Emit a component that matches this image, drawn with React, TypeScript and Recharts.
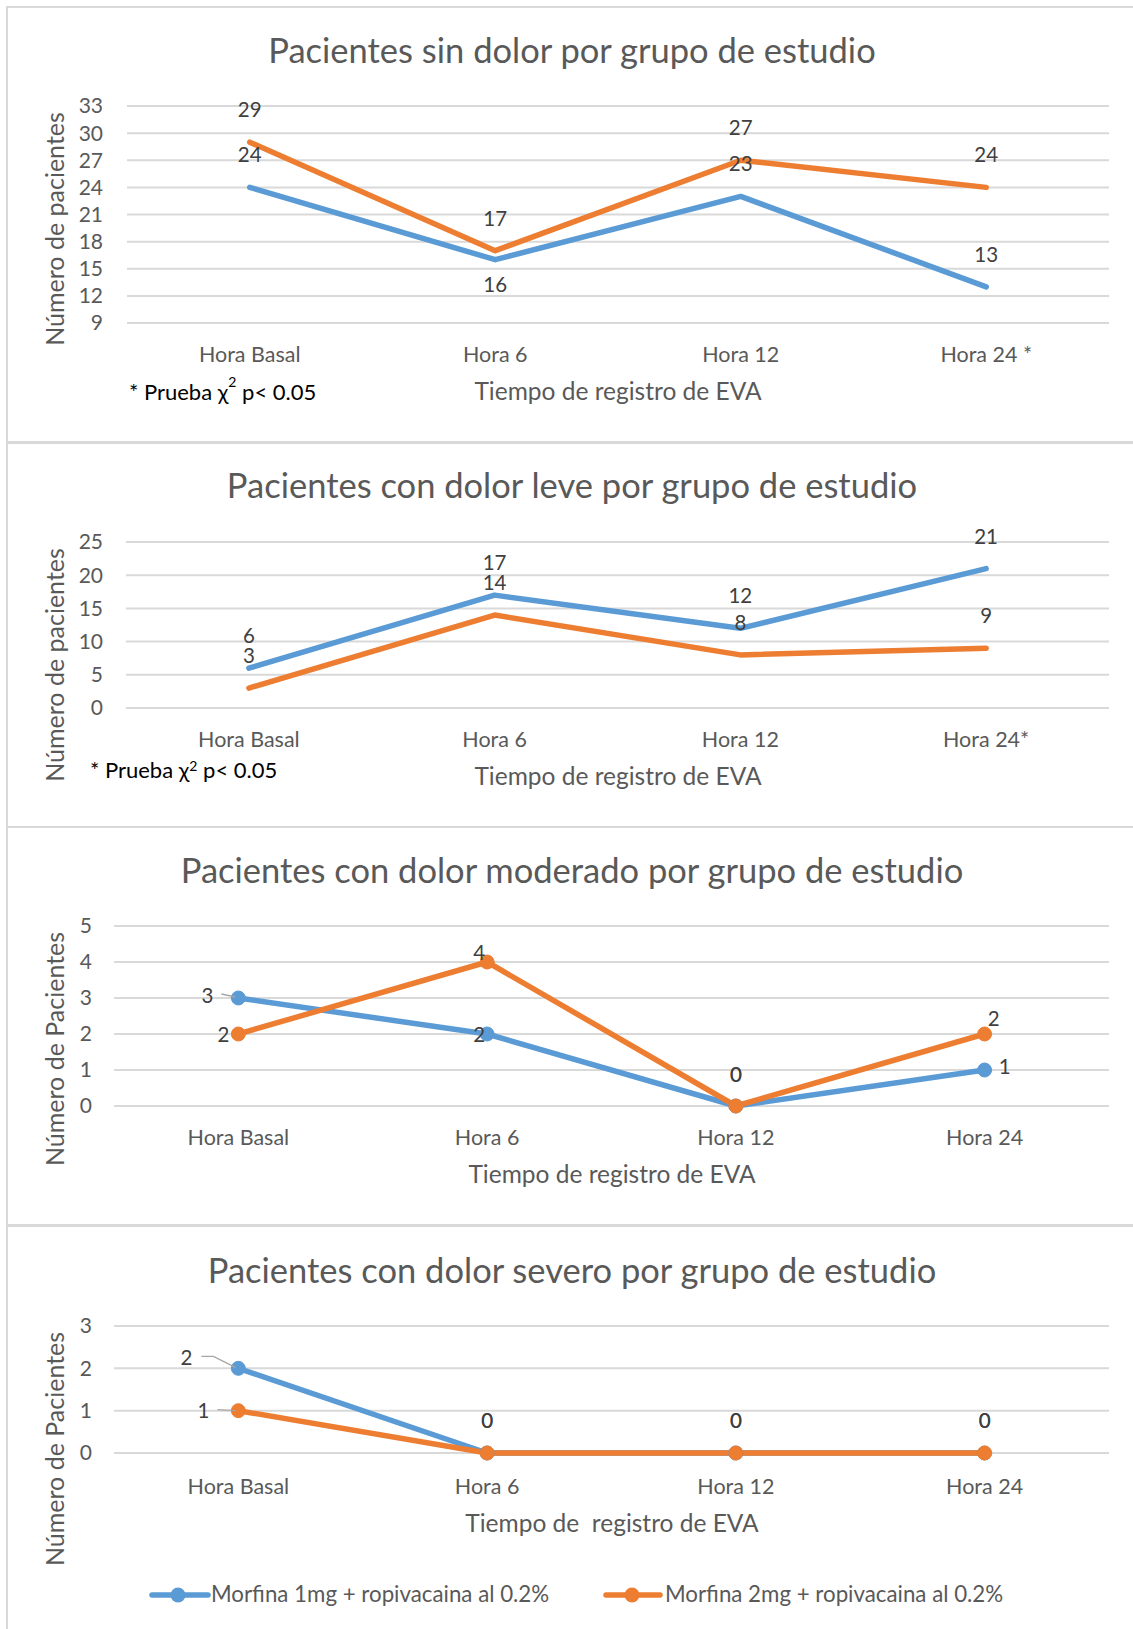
import { CartesianGrid, LabelList, Line, LineChart, XAxis, YAxis } from "recharts";

const BLUE = "#5B9BD5";
const ORANGE = "#ED7D31";
const GRID = "#D9D9D9";
const TEXT = "#595959";
const LABEL = "#404040";
const FONT = "Lato, 'Noto Sans', sans-serif";

// categories (tick labels differ slightly per chart)
const horasSinDolor = ["Hora Basal", "Hora 6", "Hora 12", "Hora 24 *"];
const horasLeve = ["Hora Basal", "Hora 6", "Hora 12", "Hora 24*"];
const horas = ["Hora Basal", "Hora 6", "Hora 12", "Hora 24"];

const serieNames = ["Morfina 1mg + ropivacaina al 0.2%", "Morfina 2mg + ropivacaina al 0.2%"];

// values per group
const sinDolor1mg = [24, 16, 23, 13];
const sinDolor2mg = [29, 17, 27, 24];
const leve1mg = [6, 17, 12, 21];
const leve2mg = [3, 14, 8, 9];
const moderado1mg = [3, 2, 0, 1];
const moderado2mg = [2, 4, 0, 2];
const severo1mg = [2, 0, 0, 0];
const severo2mg = [1, 0, 0, 0];

// y ticks
const ticksSinDolor = [9, 12, 15, 18, 21, 24, 27, 30, 33];
const ticksLeve = [0, 5, 10, 15, 20, 25];
const ticksModerado = [0, 1, 2, 3, 4, 5];
const ticksSevero = [0, 1, 2, 3];

// label placement (dx, baseline dy) relative to the point
type Pos = [number, number];
const T: Pos = [0, -25];
const B: Pos = [0, 32];

function makeLabel(pos: Pos[], leaders: Record<number, Pos[]> = {}) {
  return (props: any) => {
    const vb = props.viewBox || {};
    const x = typeof props.x === "number" ? props.x : vb.x;
    const y = typeof props.y === "number" ? props.y : vb.y;
    const i = props.index;
    const [dx, dy] = pos[i] || T;
    const leader = leaders[i];
    return (
      <g>
        {leader && (
          <polyline
            points={leader.map(([lx, ly]) => `${x + lx},${y + ly}`).join(" ")}
            fill="none"
            stroke="#A6A6A6"
            strokeWidth={1.3}
          />
        )}
        <text x={x + dx} y={y + dy} textAnchor="middle" fontSize={20.5} fill={LABEL} fontFamily={FONT}>
          {props.value}
        </text>
      </g>
    );
  };
}

function Panel(p: any) {
  const plotRight = 1109;
  const pad = (plotRight - p.plotLeft) / (2 * p.cats.length);
  const data = p.cats.map((c: string, i: number) => ({ hora: c, m1: p.s1[i], m2: p.s2[i] }));
  const xh = 30;
  const dot = (c: string) => (p.dots ? { r: 7, fill: c, stroke: c, strokeWidth: 1 } : false);
  return (
    <div style={{ position: "absolute", left: 0, top: p.top, width: 1133, height: p.height }}>
      <LineChart
        width={1133}
        height={p.height}
        data={data}
        margin={{ top: p.plotTop - p.top, right: 1133 - plotRight, left: 0, bottom: p.height - (p.plotBottom - p.top) - xh }}
      >
        <CartesianGrid vertical={false} stroke={GRID} strokeWidth={2} />
        <XAxis
          dataKey="hora"
          height={xh}
          axisLine={false}
          tickLine={false}
          tickSize={0}
          tickMargin={p.xGap}
          padding={{ left: pad, right: pad }}
          interval={0}
          tick={{ fontSize: 21.5, fill: TEXT, fontFamily: FONT }}
        />
        <YAxis
          width={p.plotLeft}
          domain={[p.ticks[0], p.ticks[p.ticks.length - 1]]}
          ticks={p.ticks}
          interval={0}
          axisLine={false}
          tickLine={false}
          tickSize={0}
          tickMargin={p.yGap}
          tick={{ fontSize: 21, fill: TEXT, fontFamily: FONT }}
        />
        <Line
          type="linear"
          dataKey="m1"
          name={serieNames[0]}
          stroke={BLUE}
          strokeWidth={5.5}
          strokeLinejoin="round"
          strokeLinecap="round"
          dot={dot(BLUE)}
          activeDot={false}
          isAnimationActive={false}
        >
          <LabelList dataKey="m1" content={makeLabel(p.lab1, p.lead1)} />
        </Line>
        <Line
          type="linear"
          dataKey="m2"
          name={serieNames[1]}
          stroke={ORANGE}
          strokeWidth={5.5}
          strokeLinejoin="round"
          strokeLinecap="round"
          dot={dot(ORANGE)}
          activeDot={false}
          isAnimationActive={false}
        >
          <LabelList dataKey="m2" content={makeLabel(p.lab2, p.lead2)} />
        </Line>
      </LineChart>
    </div>
  );
}

const titles = [
  { t: "Pacientes sin dolor por grupo de estudio", y: 63, xt: "Tiempo de registro de EVA", xx: 618, xy: 400, yt: "Número de pacientes", yc: 229 },
  { t: "Pacientes con dolor leve por grupo de estudio", y: 498, xt: "Tiempo de registro de EVA", xx: 618, xy: 785, yt: "Número de pacientes", yc: 665 },
  { t: "Pacientes con dolor moderado por grupo de estudio", y: 883, xt: "Tiempo de registro de EVA", xx: 612, xy: 1183, yt: "Número de Pacientes", yc: 1049 },
  { t: "Pacientes con dolor severo por grupo de estudio", y: 1283, xt: "Tiempo de  registro de EVA", xx: 612, xy: 1532, yt: "Número de Pacientes", yc: 1449 },
];

export default function App() {
  return (
    <div style={{ position: "absolute", left: 0, top: 0, width: 1133, height: 1629, background: "#fff", overflow: "hidden", fontFamily: FONT }}>
      <Panel
        top={6} height={436} plotTop={106} plotBottom={323} plotLeft={127} xGap={24} yGap={24}
        cats={horasSinDolor} s1={sinDolor1mg} s2={sinDolor2mg} ticks={ticksSinDolor}
        lab1={[T, B, T, T]} lab2={[T, T, T, T]}
      />
      <Panel
        top={442} height={384} plotTop={542} plotBottom={708} plotLeft={126} xGap={24} yGap={23}
        cats={horasLeve} s1={leve1mg} s2={leve2mg} ticks={ticksLeve}
        lab1={[T, T, T, T]} lab2={[T, T, T, T]}
      />
      <Panel
        top={826} height={398} plotTop={926} plotBottom={1106} plotLeft={114} xGap={24} yGap={22} dots
        cats={horas} s1={moderado1mg} s2={moderado2mg} ticks={ticksModerado}
        lab1={[[-31, 5], [-8, 8], [0, -24], [20, 4]]} lead1={{ 0: [[-17, -4], [-3, -1]] }}
        lab2={[[-15, 8], [-8, -2], [0, -24], [9, -8]]}
      />
      <Panel
        top={1224} height={405} plotTop={1326} plotBottom={1453} plotLeft={114} xGap={26} yGap={22} dots
        cats={horas} s1={severo1mg} s2={severo2mg} ticks={ticksSevero}
        lab1={[[-52, -3], T, T, T]} lead1={{ 0: [[-37, -12], [-25, -12], [-3, -1]] }}
        lab2={[[-35, 7], T, T, T]} lead2={{ 0: [[-21, -1], [-3, 0]] }}
      />
      <svg width={1133} height={1629} style={{ position: "absolute", left: 0, top: 0, pointerEvents: "none" }}>
        {/* panel frames */}
        <rect x={6} y={6} width={1140} height={2} fill={GRID} />
        <rect x={6} y={441} width={1140} height={3} fill={GRID} />
        <rect x={6} y={826} width={1140} height={2} fill={GRID} />
        <rect x={6} y={1224} width={1140} height={3} fill={GRID} />
        <rect x={6} y={6} width={2} height={1640} fill={GRID} />
        {titles.map((d) => (
          <g key={d.t} fill={TEXT} fontFamily={FONT}>
            <text x={572} y={d.y} textAnchor="middle" fontSize={34.5}>{d.t}</text>
            <text x={d.xx} y={d.xy} textAnchor="middle" fontSize={24.5} style={{ whiteSpace: "pre" }}>{d.xt}</text>
            <text transform={`translate(64,${d.yc}) rotate(-90)`} textAnchor="middle" fontSize={25}>{d.yt}</text>
          </g>
        ))}
        {/* significance notes */}
        <g fill="#000" fontFamily={FONT} fontSize={22}>
          <text x={129} y={400}>
            * Prueba χ<tspan dy={-13} fontSize={14}>2</tspan>
            <tspan dy={13}> p&lt; 0.05</tspan>
          </text>
          <text x={90} y={778}>
            * Prueba χ<tspan dy={-7} fontSize={14}>2</tspan>
            <tspan dy={7}> p&lt; 0.05</tspan>
          </text>
        </g>
        {/* legend */}
        {[
          { c: BLUE, x1: 152, x2: 208, cx: 178, tx: 211 },
          { c: ORANGE, x1: 606, x2: 660, cx: 632, tx: 665 },
        ].map((l, i) => (
          <g key={i}>
            <line x1={l.x1} x2={l.x2} y1={1595} y2={1595} stroke={l.c} strokeWidth={5.5} strokeLinecap="round" />
            <circle cx={l.cx} cy={1595} r={7.5} fill={l.c} />
            <text x={l.tx} y={1602} fontSize={22.3} fill={TEXT} fontFamily={FONT}>{serieNames[i]}</text>
          </g>
        ))}
      </svg>
    </div>
  );
}
